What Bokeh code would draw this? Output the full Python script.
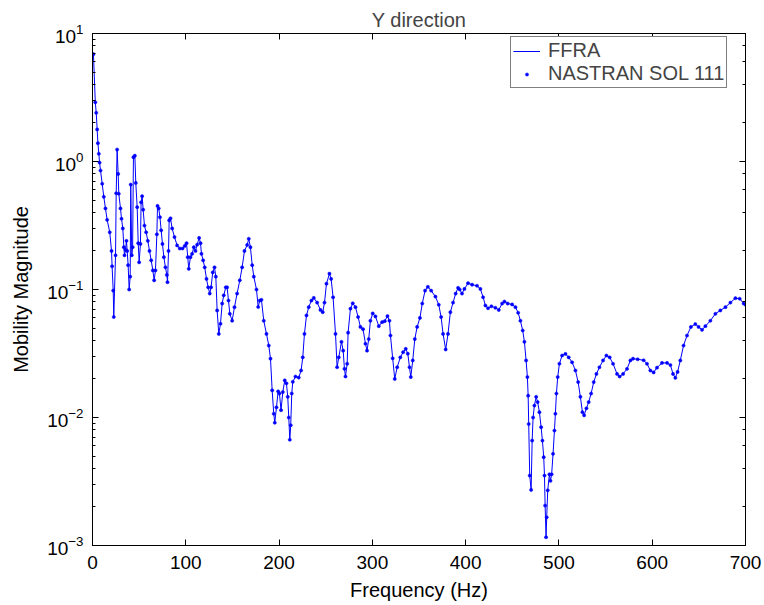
from bokeh.plotting import figure
from bokeh.models import Range1d, LinearAxis, LogAxis, Legend, LegendItem, FixedTicker
from bokeh.embed import file_html
from bokeh.resources import INLINE

# Frequency (Hz) and mobility magnitude
freq = [1.0, 3.0, 4.0, 5.0, 5.8, 6.8, 7.6, 8.6, 10.4, 12.1, 13.9, 15.7, 18.5, 20.4, 21.0, 22.2, 22.8,
        24.7, 25.4, 26.4, 27.5, 28.2, 30.0, 31.1, 32.5, 33.6, 34.3, 35.4, 36.4, 37.2, 38.2, 39.3,
        40.4, 41.0, 42.1, 43.0, 43.9, 45.4, 46.4, 47.9, 49.0, 50.0, 51.4, 52.1, 53.2, 54.3, 55.7,
        57.5, 59.3, 61.1, 62.9, 64.7, 66.1, 67.5, 69.0, 69.7, 71.0, 72.3, 73.6, 75.0, 76.5, 78.2,
        79.7, 80.4, 81.5, 82.2, 83.6, 85.4, 87.9, 90.7, 93.6, 96.5, 98.9, 100.8, 102.1, 103.2,
        105.0, 106.8, 108.6, 110.4, 112.2, 114.3, 115.8, 116.8, 118.6, 120.3, 122.2, 124.0, 125.7,
        127.1, 128.9, 130.8, 132.2, 133.6, 135.4, 137.2, 139.0, 140.7, 142.9, 144.3, 145.8, 147.2,
        149.7, 152.2, 155.0, 157.9, 160.4, 162.9, 165.8, 167.5, 169.3, 171.2, 172.9, 175.8, 177.6,
        179.3, 181.1, 183.6, 186.5, 189.0, 190.8, 192.6, 194.3, 195.4, 197.2, 199.0, 200.4, 202.1,
        204.0, 206.1, 207.9, 209.3, 210.4, 211.5, 212.5, 213.6, 214.7, 217.6, 221.1, 223.6, 225.4,
        227.2, 229.4, 231.8, 234.7, 237.2, 240.8, 244.4, 246.8, 248.7, 250.8, 254.0, 255.8, 257.9,
        260.5, 262.2, 264.0, 266.9, 268.7, 270.1, 271.2, 273.0, 274.0, 276.5, 279.0, 281.9, 284.7,
        287.2, 290.0, 292.6, 294.3, 296.1, 297.9, 300.4, 303.3, 306.9, 310.5, 313.3, 316.2, 318.3,
        319.4, 321.8, 324.0, 326.6, 330.0, 333.0, 335.8, 338.0, 339.8, 341.2, 343.3, 345.5, 348.0,
        351.0, 353.5, 356.5, 359.5, 363.0, 367.6, 371.2, 373.7, 375.8, 378.6, 381.1, 383.6, 386.5,
        389.3, 391.9, 393.6, 396.1, 398.7, 402.6, 406.9, 412.2, 415.8, 418.7, 421.2, 424.0, 427.6,
        431.9, 435.5, 439.1, 441.6, 445.1, 449.8, 453.4, 456.3, 458.7, 461.2, 463.0, 464.8, 466.2,
        467.0, 467.6, 468.7, 470.2, 471.3, 472.3, 473.7, 475.6, 477.2, 479.1, 480.9, 482.3, 483.7,
        484.5, 485.2, 486.2, 486.9, 488.0, 489.8, 490.9, 492.2, 493.7, 495.2, 496.2, 497.3, 498.7,
        500.5, 503.4, 507.0, 510.5, 514.1, 517.7, 520.6, 523.0, 525.2, 527.0, 529.5, 531.9, 534.5,
        537.3, 540.2, 543.4, 547.3, 550.9, 554.4, 558.0, 562.3, 565.1, 568.8, 573.0, 576.6, 579.4,
        584.4, 590.8, 594.4, 598.0, 601.5, 605.1, 610.5, 615.9, 619.5, 622.3, 624.8, 627.2, 630.1,
        633.6, 637.3, 641.5, 646.2, 649.7, 653.4, 657.0, 662.3, 667.7, 673.0, 678.5, 683.8, 689.2,
        693.8, 698.1, 700.0]

ffra = [6.9, 2.9, 2.4, 1.78, 1.39, 1.15, 0.98, 0.85, 0.67, 0.53, 0.43, 0.35, 0.28, 0.20, 0.152, 0.098, 0.061,
        0.185, 0.565, 1.24, 0.80, 0.56, 0.43, 0.357, 0.30, 0.214, 0.185, 0.204, 0.24, 0.20, 0.155, 0.10,
        0.126, 0.66, 0.185, 0.214, 1.08, 1.11, 0.68, 0.44, 0.23, 0.163, 0.227, 0.48, 0.536, 0.42, 0.316,
        0.28, 0.24, 0.20, 0.169, 0.141, 0.118, 0.141, 0.27, 0.45, 0.43, 0.367, 0.29, 0.227, 0.179, 0.149,
        0.13, 0.114, 0.20, 0.347, 0.36, 0.30, 0.257, 0.221, 0.209, 0.209, 0.219, 0.23, 0.179, 0.145,
        0.179, 0.19, 0.214, 0.20, 0.224, 0.253, 0.23, 0.19, 0.169, 0.149, 0.121, 0.104, 0.093,
        0.104, 0.136, 0.149, 0.126, 0.0686, 0.045, 0.054, 0.0777, 0.09, 0.104, 0.104, 0.082, 0.0646,
        0.057, 0.0728, 0.093, 0.118, 0.149, 0.20, 0.223, 0.249, 0.214, 0.155, 0.126, 0.10, 0.073,
        0.082, 0.083, 0.057, 0.045, 0.0365, 0.0288, 0.0163, 0.0107, 0.0091, 0.012, 0.016, 0.0154, 0.0114,
        0.0158, 0.0195, 0.0185, 0.0145, 0.010, 0.0067, 0.0087, 0.0154, 0.019, 0.0209, 0.0205, 0.0233, 0.0295,
        0.045, 0.0627, 0.0728, 0.082, 0.086, 0.079, 0.0692, 0.0665, 0.079, 0.111, 0.133, 0.121, 0.087,
        0.045, 0.0247, 0.0295, 0.039, 0.0333, 0.024, 0.0209, 0.0263, 0.046, 0.0708, 0.078, 0.0728, 0.061,
        0.051, 0.049, 0.0377, 0.0333, 0.041, 0.057, 0.065, 0.0616, 0.0517, 0.0556, 0.0566, 0.062, 0.057,
        0.0437, 0.029, 0.020, 0.0247, 0.0295, 0.0324, 0.0344, 0.0315, 0.0247, 0.0207, 0.0279, 0.041, 0.051,
        0.060, 0.0777, 0.098, 0.105, 0.098, 0.088, 0.076, 0.061, 0.045, 0.034, 0.045, 0.0665, 0.079,
        0.093, 0.103, 0.10, 0.093, 0.101, 0.112, 0.109, 0.107, 0.101, 0.087, 0.075, 0.0714, 0.074,
        0.072, 0.0692, 0.0777, 0.0805, 0.0777, 0.0764, 0.0728, 0.0658, 0.057, 0.0478, 0.039, 0.0279, 0.0207,
        0.0148, 0.0089, 0.00352, 0.00272, 0.0066, 0.010, 0.0124, 0.0145, 0.0132, 0.011, 0.0084, 0.0066, 0.0049,
        0.00352, 0.00205, 0.00116, 0.00166, 0.0027, 0.0036, 0.0032, 0.0036, 0.0052, 0.0079, 0.0107, 0.0154, 0.0207,
        0.0263, 0.0305, 0.0314, 0.0295, 0.027, 0.0233, 0.0189, 0.0145, 0.011, 0.0104, 0.0118, 0.0132, 0.0154,
        0.0189, 0.0219, 0.0247, 0.0279, 0.0305, 0.0295, 0.0263, 0.0219, 0.0209, 0.0219, 0.024, 0.0279, 0.0288,
        0.0285, 0.028, 0.0263, 0.0233, 0.0225, 0.0245, 0.0267, 0.0267, 0.0257, 0.0219, 0.0204, 0.0227, 0.0279,
        0.0365, 0.0437, 0.051, 0.0537, 0.051, 0.0484, 0.0517, 0.057, 0.0646, 0.0686, 0.0728, 0.079, 0.0855,
        0.0847, 0.0777, 0.076]

nastran_freq = freq
nastran = ffra

x_ticks = [0, 100, 200, 300, 400, 500, 600, 700]

FONT = "Liberation Sans"
BLUE = "#0000ff"

p = figure(width=764, height=605, y_axis_type="log",
           x_range=Range1d(0, 700), y_range=Range1d(1e-3, 10),
           output_backend="svg", toolbar_location=None,
           min_border_left=92, min_border_right=19, min_border_top=33, min_border_bottom=60,
           title="Y direction")
p.background_fill_color = "white"
p.border_fill_color = "white"
p.outline_line_color = "black"
p.outline_line_width = 1
p.xgrid.visible = False
p.ygrid.visible = False

p.title.align = "center"
p.title.text_font = FONT
p.title.text_font_size = "20px"
p.title.text_font_style = "normal"
p.title.standoff = 6
p.title.offset = 0

line = p.line(freq, ffra, line_color=BLUE, line_width=1)
dots = p.scatter(nastran_freq, nastran, size=3.2, fill_color=BLUE, line_color=BLUE, line_width=0.5)

def style_axis(ax, labels=True, minor=True):
    ax.axis_line_color = "black"
    ax.axis_line_width = 1
    ax.major_tick_in = 6
    ax.major_tick_out = 0
    ax.major_tick_line_color = "black"
    if minor:
        ax.minor_tick_in = 3
        ax.minor_tick_out = 0
        ax.minor_tick_line_color = "black"
    else:
        ax.minor_tick_line_color = None
    ax.major_label_text_font = FONT
    ax.major_label_text_font_size = "19px"
    ax.major_label_text_color = "black" if labels else None
    ax.axis_label_text_font = FONT
    ax.axis_label_text_font_size = "20px"
    ax.axis_label_text_font_style = "normal"
    ax.axis_label_text_color = "black"

xa = p.xaxis[0]
xa.ticker = FixedTicker(ticks=x_ticks)
xa.axis_label = "Frequency (Hz)"
style_axis(xa, minor=False)
xa.major_label_standoff = 10
xa.axis_label_standoff = 7

ya = p.yaxis[0]
ya.axis_label = "Mobility Magnitude"
style_axis(ya)
ya.major_label_standoff = 9
ya.axis_label_standoff = 12

top = LinearAxis(ticker=FixedTicker(ticks=x_ticks))
style_axis(top, labels=False, minor=False)
top.major_label_text_font_size = "0px"
p.add_layout(top, "above")

right = LogAxis()
style_axis(right, labels=False)
right.major_label_text_font_size = "0px"
p.add_layout(right, "right")

legend = Legend(items=[LegendItem(label="FFRA", renderers=[line]),
                       LegendItem(label="NASTRAN SOL 111", renderers=[dots])],
                location=(418, 457))
legend.label_text_font = FONT
legend.label_text_font_size = "20px"
legend.label_text_line_height = 1.0
legend.label_height = 20
legend.glyph_height = 8
legend.glyph_width = 27
legend.label_standoff = 8
legend.padding = 2
legend.spacing = 0
legend.margin = 0
legend.border_line_color = "black"
legend.border_line_width = 1
legend.background_fill_color = "white"
legend.background_fill_alpha = 1
p.add_layout(legend, "center")

open("out.html", "w").write(file_html(p, INLINE))
